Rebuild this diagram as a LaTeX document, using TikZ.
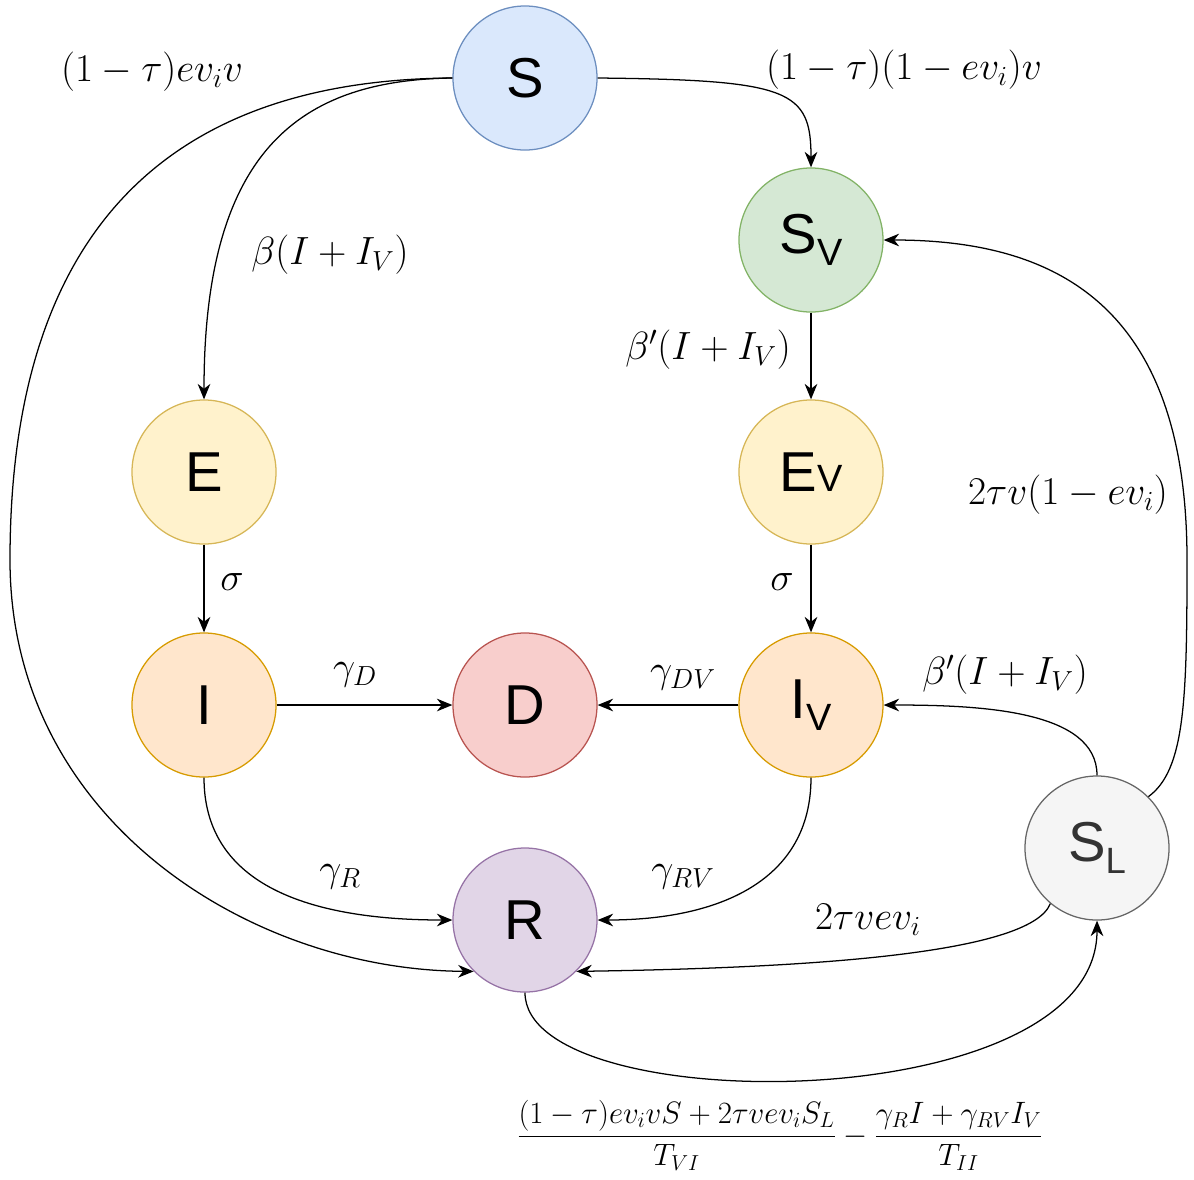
\RequirePackage{fix-cm}
\documentclass[tikz,border=0pt]{standalone}
\usepackage[no-math]{fontspec}
\setmainfont{Liberation Sans}
\usetikzlibrary{arrows.meta}
\definecolor{sfill}{HTML}{DAE8FC}\definecolor{sdraw}{HTML}{6C8EBF}
\definecolor{gfill}{HTML}{D5E8D4}\definecolor{gdraw}{HTML}{82B366}
\definecolor{yfill}{HTML}{FFF2CC}\definecolor{ydraw}{HTML}{D6B656}
\definecolor{ofill}{HTML}{FFE6CC}\definecolor{odraw}{HTML}{D79B00}
\definecolor{rfill}{HTML}{F8CECC}\definecolor{rdraw}{HTML}{B85450}
\definecolor{pfill}{HTML}{E1D5E7}\definecolor{pdraw}{HTML}{9673A6}
\definecolor{lfill}{HTML}{F5F5F5}\definecolor{ldraw}{HTML}{666666}
\definecolor{ltext}{HTML}{333333}
\newcommand{\lowsub}[2]{\raisebox{-9pt}{\fontsize{#1}{#1}\selectfont #2}}
\begin{document}
\begin{tikzpicture}[
        x=0.025cm, y=-0.025cm,
        comp/.style={circle, draw, line width=0.9pt, minimum size=3.6cm, inner sep=0pt,
            font=\fontsize{40}{48}\selectfont},
        lab/.style={inner sep=0pt, font=\fontsize{28}{32}\selectfont},
        arrow/.style={-{Stealth[length=11pt, width=9pt, inset=3.5pt]}, line width=0.9pt}
    ]
    \useasboundingbox (0,0) rectangle (1194,1179);
    % Nodes
    \node[comp, fill=sfill, draw=sdraw] (S) at (525,78) {S};
    \node[comp, fill=gfill, draw=gdraw] (Sv) at (811,240) {S\lowsub{27}{V}};
    \node[comp, fill=yfill, draw=ydraw] (E) at (204,472) {E};
    \node[comp, fill=yfill, draw=ydraw] (Ev) at (811,472) {E{\fontsize{27}{27}\selectfont V}};
    \node[comp, fill=ofill, draw=odraw] (I) at (204,705) {I};
    \node[comp, fill=rfill, draw=rdraw] (D) at (525,705) {D};
    \node[comp, fill=ofill, draw=odraw] (Iv) at (811,705) {I\lowsub{27}{V}};
    \node[comp, fill=pfill, draw=pdraw] (R) at (525,920) {R};
    \node[comp, fill=lfill, draw=ldraw, text=ltext] (SL) at (1097,848) {S\lowsub{26}{L}};
    % Labels
    \node[lab] (lSR) at (152,72) {$(1-\tau)ev_iv$};
    \node[lab] (lSSv) at (904,70) {$(1-\tau)(1-ev_i)v$};
    \node[lab] (lSE) at (330,255) {$\beta(I+I_V)$};
    \node[lab] (lSvEv) at (708,350) {$\beta'(I+I_V)$};
    \node[lab] (lEI) at (232,582) {$\sigma$};
    \node[lab] (lEvIv) at (782,582) {$\sigma$};
    \node[lab] (lID) at (355,675) {$\gamma_D$};
    \node[lab] (lIvD) at (683,678) {$\gamma_{DV}$};
    \node[lab] (lIR) at (340,877) {$\gamma_R$};
    \node[lab] (lIvR) at (683,877) {$\gamma_{RV}$};
    \node[lab] (lSLIv) at (1005,675) {$\beta'(I+I_V)$};
    \node[lab] (lSLSv) at (1068,495) {$2\tau v(1-ev_i)$};
    \node[lab] (lSLR) at (868,920) {$2\tau vev_i$};
    \node[lab, font=\fontsize{22}{26}\selectfont] (lRSL) at (780,1135)
        {$\displaystyle\frac{(1-\tau)ev_ivS+2\tau vev_iS_L}{T_{VI}}-\frac{\gamma_RI+\gamma_{RV}I_V}{T_{II}}$};
    % Edges
    \draw[arrow] (S.west) .. controls (150,80) and (10,250) .. (10,560)
        .. controls (10,820) and (250,970) .. (R.225);
    \draw[arrow] (S.east) .. controls (790,80) and (811,90) .. (Sv.north);
    \draw[arrow] (S.west) .. controls (300,80) and (204,150) .. (E.north);
    \draw[arrow] (Sv) -- (Ev);
    \draw[arrow] (E) -- (I);
    \draw[arrow] (Ev) -- (Iv);
    \draw[arrow] (I) -- (D);
    \draw[arrow] (Iv) -- (D);
    \draw[arrow] (I.south) .. controls (204,880) and (300,920) .. (R.west);
    \draw[arrow] (Iv.south) .. controls (811,880) and (720,920) .. (R.east);
    \draw[arrow] (SL.north) .. controls (1097,710) and (980,705) .. (Iv.east);
    \draw[arrow] (SL.45) .. controls (1185,770) and (1187,700) .. (1187,560)
        .. controls (1187,300) and (1050,240) .. (Sv.east);
    \draw[arrow] (SL.230) .. controls (1030,955) and (800,968) .. (R.-45);
    \draw[arrow] (R.south) .. controls (525,1120) and (1097,1120) .. (SL.south);
\end{tikzpicture}
\end{document}
